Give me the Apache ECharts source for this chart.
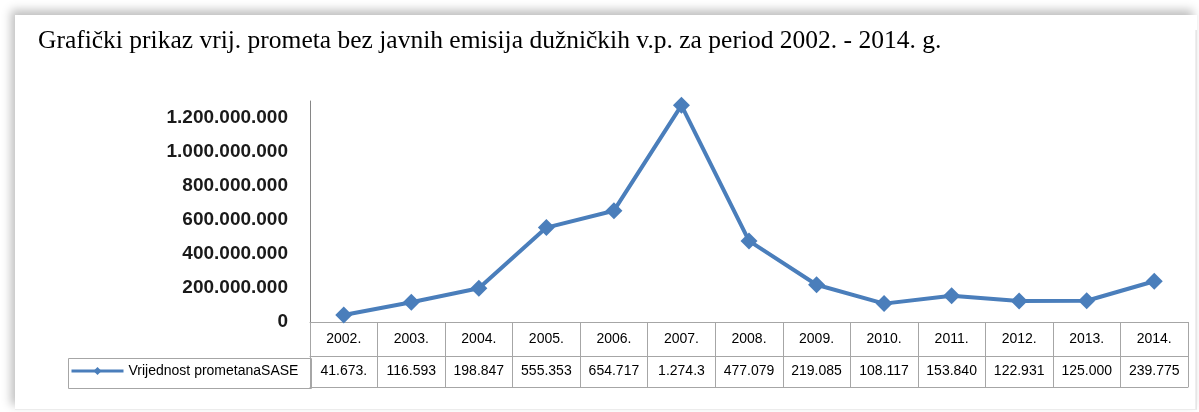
<!DOCTYPE html>
<html>
<head>
<meta charset="utf-8">
<script src="https://cdn.jsdelivr.net/npm/echarts@6/dist/echarts.min.js"></script>
<style>
  html, body { margin: 0; padding: 0; background: #fff; }
  .frame {
    position: absolute; left: 15px; top: 15px; width: 1182px; height: 395px;
    background: #fff;
    box-shadow: -4px -5px 9px rgba(0, 0, 0, 0.25);
  }
  .edge-r { position: absolute; left: 1195px; top: 30px; width: 2px; height: 380px; background: linear-gradient(to right, #f2f2f2, #e2e2e2); }
  .edge-b { position: absolute; left: 15px; top: 409px; width: 1182px; height: 1px; background: #ececec; }
  #chart { position: absolute; left: 0; top: 0; width: 1199px; height: 412px; }
</style>
</head>
<body>
<div class="frame"></div>
<div class="edge-r"></div>
<div class="edge-b"></div>
<div id="chart"></div>
<script>
// podaci
const years = ['2002.', '2003.', '2004.', '2005.', '2006.', '2007.', '2008.', '2009.', '2010.', '2011.', '2012.', '2013.', '2014.'];
const values = [41673000, 116593000, 198847000, 555353000, 654717000, 1274300000, 477079000, 219085000, 108117000, 153840000, 122931000, 125000000, 239775000];
// tekst u ćelijama tabele (kako je prikazano)
const tableLabels = ['41.673.', '116.593', '198.847', '555.353', '654.717', '1.274.3', '477.079', '219.085', '108.117', '153.840', '122.931', '125.000', '239.775'];
const seriesName = 'Vrijednost prometanaSASE';
const titleText = 'Grafički prikaz vrij. prometa bez javnih emisija dužničkih v.p. za period 2002. - 2014. g.';

const gridLine = '#a6a6a6';
const blue = '#4a7ebb';

const fmt = (v) => String(v).replace(/\B(?=(\d{3})+(?!\d))/g, '.');

const chart = echarts.init(document.getElementById('chart'));

// pomoćne ose za horizontalne linije tabele
const tableLine = (offset) => ({
  type: 'category',
  data: years,
  position: 'bottom',
  offset: offset,
  axisLine: { show: true, lineStyle: { color: gridLine, width: 1 } },
  axisTick: { show: false },
  axisLabel: { show: false },
  splitLine: { show: false }
});

chart.setOption({
  backgroundColor: 'transparent',
  animation: false,
  title: {
    text: titleText,
    left: 33,
    top: 23,
    textStyle: { fontFamily: 'Liberation Serif', fontSize: 25.5, fontWeight: 'normal', color: '#000' }
  },
  legend: {
    data: [seriesName],
    left: 70,
    top: 364,
    padding: 0,
    itemWidth: 52,
    itemHeight: 10,
    lineStyle: { width: 3 },
    textStyle: { fontFamily: 'Liberation Sans', fontSize: 14, color: '#000' }
  },
  grid: { left: 310, right: 11, top: 101, bottom: 90, containLabel: false },
  xAxis: [
    {
      type: 'category',
      data: years,
      position: 'bottom',
      boundaryGap: true,
      axisLine: { show: true, lineStyle: { color: gridLine, width: 1 } },
      axisTick: { show: true, inside: false, length: 65, alignWithLabel: false, lineStyle: { color: gridLine, width: 1 } },
      axisLabel: {
        margin: 1,
        interval: 0,
        formatter: (v, i) => '{y|' + v + '}\n{v|' + tableLabels[i] + '}',
        rich: {
          y: { fontFamily: 'Liberation Sans', fontSize: 14, lineHeight: 33, color: '#000' },
          v: { fontFamily: 'Liberation Sans', fontSize: 14, lineHeight: 31, color: '#000' }
        }
      },
      splitLine: { show: false }
    },
    tableLine(34),
    tableLine(65)
  ],
  yAxis: {
    type: 'value',
    min: 0,
    max: 1300000000,
    interval: 200000000,
    axisLine: { show: true, lineStyle: { color: '#868686', width: 1 } },
    axisTick: { show: false },
    splitLine: { show: false },
    axisLabel: {
      margin: 22,
      showMaxLabel: false,
      fontFamily: 'Liberation Sans',
      fontSize: 19,
      fontWeight: 'bold',
      color: '#1a1a1a',
      formatter: fmt
    }
  },
  graphic: [
    {
      // ćelija legende
      type: 'rect',
      left: 66,
      top: 356,
      shape: { width: 243, height: 30 },
      style: { fill: 'none', stroke: gridLine, lineWidth: 1 },
      silent: true
    }
  ],
  series: [
    {
      name: seriesName,
      type: 'line',
      data: values,
      symbol: 'diamond',
      symbolSize: 17,
      lineStyle: { color: blue, width: 4 },
      itemStyle: { color: blue }
    }
  ]
});
</script>
</body>
</html>
